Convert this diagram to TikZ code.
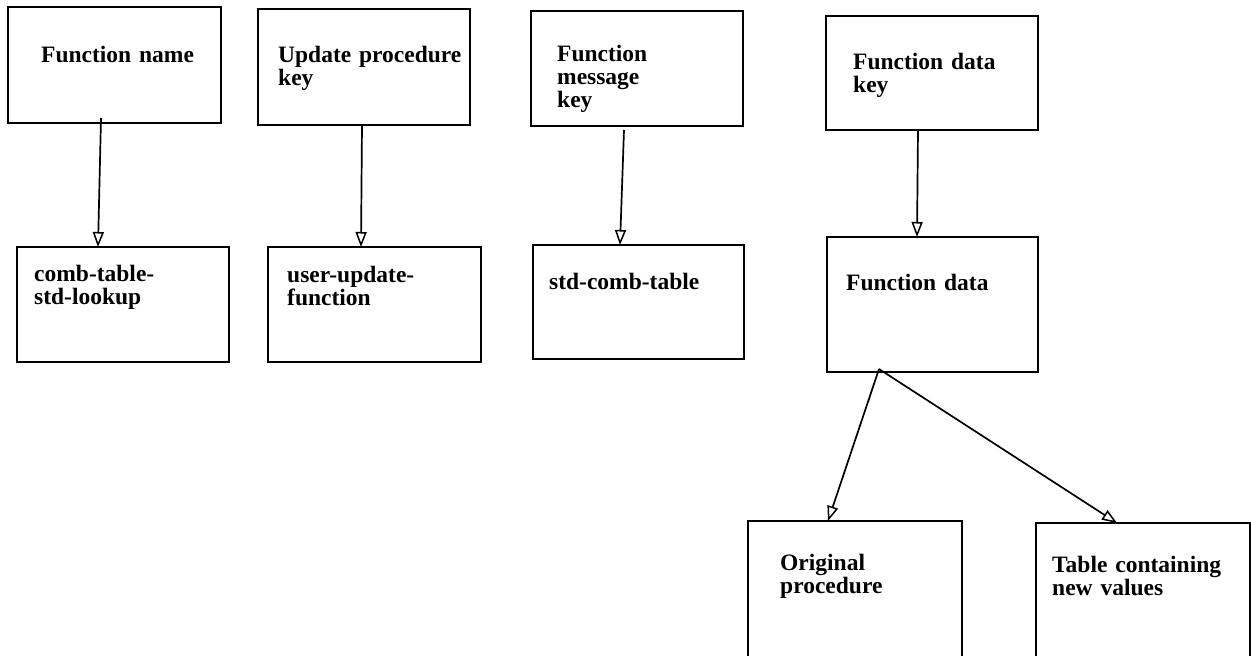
\documentclass[tikz,border=0pt]{standalone}
\usepackage{fontspec}
\setmainfont{Liberation Serif}
\usetikzlibrary{arrows.meta,calc}
\begin{document}
\begin{tikzpicture}[x=1pt,y=-1pt,
  box/.style={draw,line width=2pt,anchor=north west,inner sep=0pt,outer sep=0pt},
  lbl/.style={anchor=base west,inner sep=0pt,text width=220pt,align=left,font=\bfseries\fontsize{23.5}{23}\selectfont},
  arr/.style={line width=1.7pt,-{Triangle[open,length=15pt,width=11pt,line width=1.5pt]}}]
\useasboundingbox (0,0) rectangle (1251,656);
% boxes
\node[box,minimum width=213pt,minimum height=116pt] (b1) at (8,7) {};
\node[box,minimum width=212pt,minimum height=116pt] (b2) at (258,9) {};
\node[box,minimum width=212pt,minimum height=115pt] (b3) at (531,11) {};
\node[box,minimum width=212pt,minimum height=114pt] (b4) at (826,16) {};
\node[box,minimum width=212pt,minimum height=115pt] (b5) at (17,247) {};
\node[box,minimum width=213pt,minimum height=115pt] (b6) at (268,247) {};
\node[box,minimum width=211pt,minimum height=114pt] (b7) at (533,245) {};
\node[box,minimum width=211pt,minimum height=135pt] (b8) at (827,237) {};
\node[box,minimum width=214pt,minimum height=145pt] (b9) at (748,521) {};
\node[box,minimum width=214pt,minimum height=145pt] (b10) at (1036,523) {};
% labels
\node[lbl] (t1) at (41,62) {Function name};
\node[lbl] (t2) at (278,62) {Update procedure\\key};
\node[lbl] (t3) at (557,61) {Function\\message\\key};
\node[lbl] (t4) at (853,69) {Function data\\key};
\node[lbl] (t5) at (34,281) {comb-table-\\std-lookup};
\node[lbl] (t6) at (287,282) {user-update-\\function};
\node[lbl] (t7) at (549,289) {std-comb-table};
\node[lbl] (t8) at (846,290) {Function data};
\node[lbl] (t9) at (780,570) {Original\\procedure};
\node[lbl] (t10) at (1052,572) {Table containing\\new values};
% connectors
\coordinate (s1) at ($(b1.south west)+(93,-5)$);
\coordinate (s3) at ($(b3.south west)+(93,4)$);
\coordinate (s8) at ($(b8.south west)+(52,-3)$);
\draw[arr] (s1) -- ($(b5.north west)+(81,0)$);
\draw[arr] ($(b2.south west)+(104,0)$) -- ($(b6.north west)+(93,0)$);
\draw[arr] (s3) -- ($(b7.north west)+(87,0)$);
\draw[arr] ($(b4.south west)+(92,0)$) -- ($(b8.north west)+(90,0)$);
\draw[arr] (s8) -- ($(b9.north west)+(80,0)$);
\draw[arr] (s8) -- ($(b10.north west)+(81,0)$);
\end{tikzpicture}
\end{document}
